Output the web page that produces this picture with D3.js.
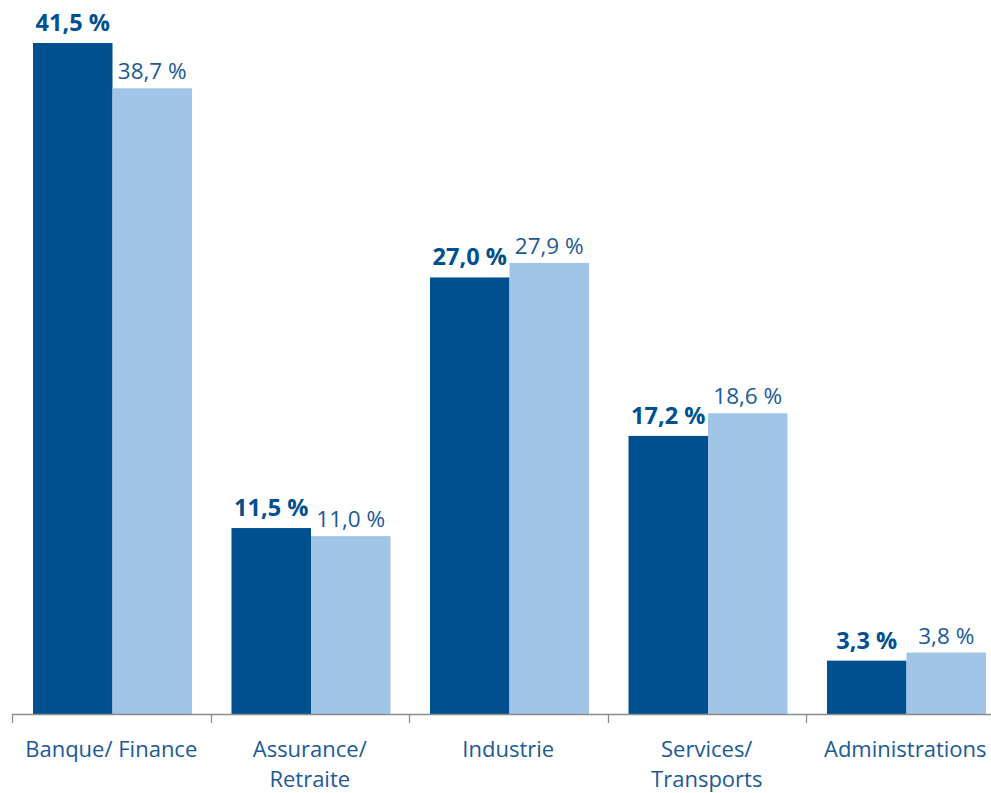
<!DOCTYPE html>
<html><head><meta charset="utf-8">
<script src="https://cdn.jsdelivr.net/npm/d3@7/dist/d3.min.js"></script>
<style>body{margin:0;background:#fff}svg{display:block}text{font-family:"Open Sans",sans-serif}</style>
</head><body>
<svg id="c" width="991" height="793"></svg>
<script>
const categories = [["Banque/ Finance"], ["Assurance/", "Retraite"], ["Industrie"], ["Services/", "Transports"], ["Administrations"]];
const series1 = [41.5, 11.5, 27.0, 17.2, 3.3];
const series2 = [38.7, 11.0, 27.9, 18.6, 3.8];
const fmt = v => d3.format(".1f")(v).replace(".", ",") + " %";

const svg = d3.select("#c");
const baseY = 714, x0 = 12, bandW = 198.5;
const ids = categories.map((d, i) => i);
const x = d3.scaleBand().domain(ids).range([x0, x0 + bandW * ids.length]).paddingInner(0).paddingOuter(0);
const y = d3.scaleLinear().domain([0, 41.5]).range([baseY, 43]);
const sub = d3.scaleBand().domain([0, 1]).range([21, 21 + 159]);

const dark = "#00508f", light = "#a0c5e7", txt = "#1b5a97";

const g = svg.append("g");
ids.forEach(i => {
  [series1[i], series2[i]].forEach((v, s) => {
    const bx = x(i) + sub(s);
    g.append("rect").attr("x", bx).attr("y", y(v)).attr("width", sub.bandwidth()).attr("height", baseY - y(v))
      .attr("fill", s === 0 ? dark : light);
    g.append("text").attr("x", bx + sub.bandwidth() / 2).attr("y", y(v) - (s === 0 ? 12 : 9))
      .attr("text-anchor", "middle").attr("font-size", s === 0 ? 23.5 : 22.5)
      .attr("font-weight", s === 0 ? 700 : 400)
      .attr("fill", s === 0 ? dark : txt).text(fmt(v));
  });
});

// axis
const ax = svg.append("g").attr("transform", `translate(0,${baseY})`);
const axis = d3.axisBottom(x).tickSize(0).tickFormat("");
ax.call(axis);
ax.select(".domain").attr("stroke", "#8c8c8c").attr("stroke-width", 1.3).attr("d", `M${x0},0.5H${x0 + bandW * 5}`);
ax.selectAll(".tick").remove();
d3.range(ids.length + 1).forEach(k => {
  const tx = Math.round(x0 + bandW * k) + 0.5;
  ax.append("line").attr("x1", tx).attr("x2", tx).attr("y1", 0).attr("y2", 9).attr("stroke", "#8c8c8c").attr("stroke-width", 1.3);
});

// category labels
ids.forEach(i => {
  const t = svg.append("text").attr("text-anchor", "middle").attr("font-size", 22).attr("fill", txt)
    .attr("transform", `translate(${x(i) + bandW / 2},757)`);
  categories[i].forEach((line, j) => t.append("tspan").attr("x", 0).attr("y", j * 30).text(line));
});
</script>
</body></html>
